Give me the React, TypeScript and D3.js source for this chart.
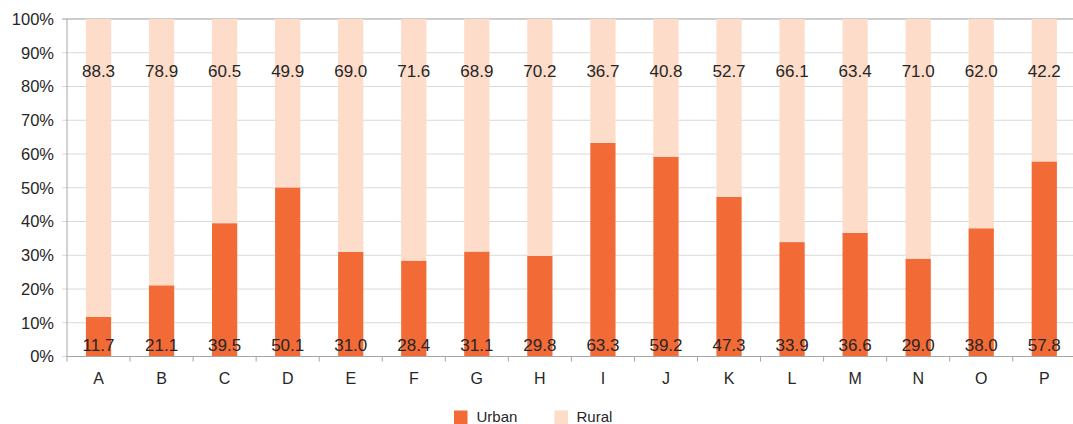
import React from "react";
import * as d3 from "d3";

const categories = ["A","B","C","D","E","F","G","H","I","J","K","L","M","N","O","P"];
const urban = [11.7,21.1,39.5,50.1,31.0,28.4,31.1,29.8,63.3,59.2,47.3,33.9,36.6,29.0,38.0,57.8];
const rural = [88.3,78.9,60.5,49.9,69.0,71.6,68.9,70.2,36.7,40.8,52.7,66.1,63.4,71.0,62.0,42.2];
const seriesNames = ["Urban","Rural"];
const yTicks = [0,10,20,30,40,50,60,70,80,90,100];

const W = 1073, H = 424;
const COLORS = ["#F26A35", "#FDDCC9"];
const FONT = "'Liberation Sans', Arial, sans-serif";

export default function App() {
  const left = 67, bandW = 63.05;
  const x = d3.scaleBand<string>().domain(categories).range([left, left + bandW * categories.length]).paddingInner(0.6).paddingOuter(0.3);
  const y = d3.scaleLinear().domain([0, 100]).range([356.5, 19]);
  const rows = categories.map((c, i) => ({ cat: c, Urban: urban[i], Rural: rural[i] }));
  const stacked = d3.stack<any>().keys(seriesNames).offset(d3.stackOffsetExpand)(rows);
  const step = bandW;
  const textColor = "#262626";

  return (
    <svg width={W} height={H} style={{ position: "absolute", left: 0, top: 0, display: "block", background: "#fff" }} fontFamily={FONT}>
      {yTicks.map(t => (
        <g key={t}>
          <line x1={left - 5} x2={W} y1={y(t)} y2={y(t)} stroke={t === 100 ? "#bdbdbd" : "#d9d9d9"} strokeWidth={t === 100 ? 1.5 : 1} />
          <text x={54} y={y(t)} dy="0.36em" textAnchor="end" fontSize={16.5} fill={textColor}>{t}%</text>
        </g>
      ))}
      {stacked.map((s, si) => (
        <g key={s.key} fill={COLORS[si]}>
          {s.map((d, i) => (
            <rect key={i} x={x(categories[i])} width={x.bandwidth()} y={y(d[1] * 100)} height={y(d[0] * 100) - y(d[1] * 100)} />
          ))}
        </g>
      ))}
      <line x1={left} x2={left} y1={y(100)} y2={y(0)} stroke="#a6a6a6" />
      <line x1={left} x2={W} y1={y(0)} y2={y(0)} stroke="#a6a6a6" />
      {d3.range(categories.length + 1).map(i => (
        <line key={i} x1={left + i * step} x2={left + i * step} y1={y(0)} y2={y(0) + 5} stroke="#a6a6a6" />
      ))}
      {categories.map((c, i) => (
        <g key={c}>
          <text x={x(c)! + x.bandwidth() / 2} y={y(3.3)} dy="0.36em" textAnchor="middle" fontSize={17} fill={textColor}>{urban[i].toFixed(1)}</text>
          <text x={x(c)! + x.bandwidth() / 2} y={y(84.5)} dy="0.36em" textAnchor="middle" fontSize={17} fill={textColor}>{rural[i].toFixed(1)}</text>
          <text x={x(c)! + x.bandwidth() / 2} y={378} dy="0.36em" textAnchor="middle" fontSize={16} fill={textColor}>{c}</text>
        </g>
      ))}
      <g>
        <rect x={454} y={410.5} width={13.5} height={13.5} fill={COLORS[0]} />
        <text x={476.5} y={416.5} dy="0.36em" fontSize={15} fill={textColor}>{seriesNames[0]}</text>
        <rect x={554.5} y={410.5} width={13.5} height={13.5} fill={COLORS[1]} />
        <text x={576.5} y={416.5} dy="0.36em" fontSize={15} fill={textColor}>{seriesNames[1]}</text>
      </g>
    </svg>
  );
}
